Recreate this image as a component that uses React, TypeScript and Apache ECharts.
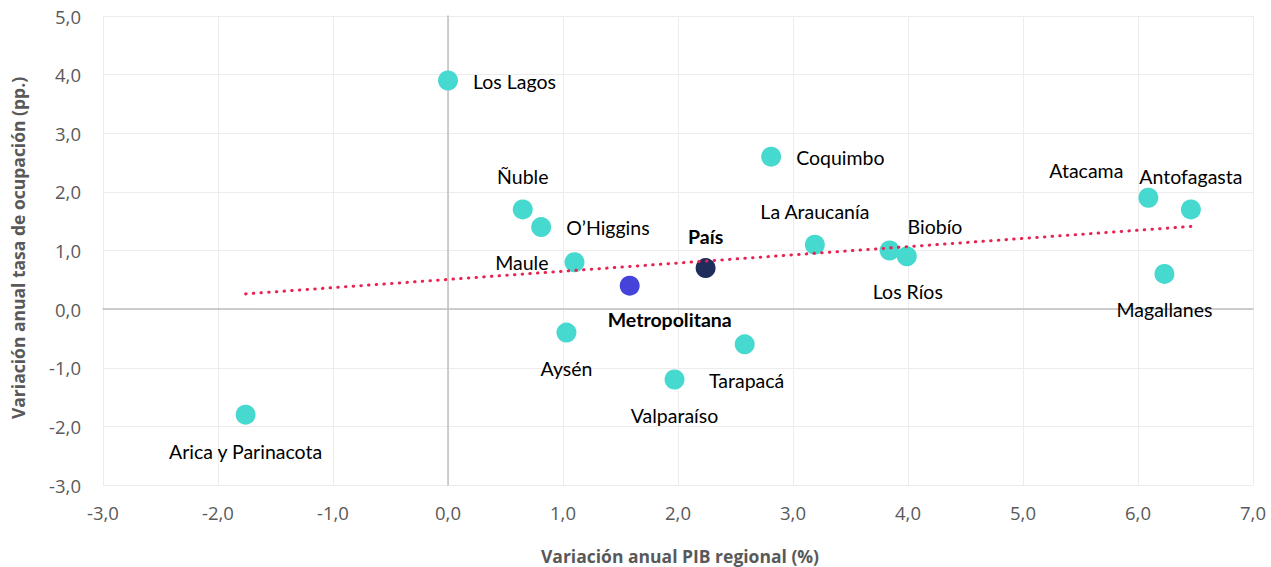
import React, { useEffect, useRef } from "react";
import * as echarts from "echarts";

const regions = [
  "Los Lagos", "Coquimbo", "Ñuble", "O’Higgins", "Maule", "La Araucanía",
  "Biobío", "Los Ríos", "Atacama", "Antofagasta", "Magallanes", "Aysén",
  "Tarapacá", "Valparaíso", "Arica y Parinacota",
];
const pibRegional = [0.0, 2.81, 0.65, 0.81, 1.1, 3.19, 3.84, 3.99, 6.09, 6.46, 6.23, 1.03, 2.58, 1.97, -1.76];
const ocupacionRegional = [3.9, 2.6, 1.7, 1.4, 0.8, 1.1, 1.0, 0.9, 1.9, 1.7, 0.6, -0.4, -0.6, -1.2, -1.8];

const metroName = "Metropolitana";
const metroPoint = [1.58, 0.4];
const paisName = "País";
const paisPoint = [2.24, 0.7];

const trendX = [-1.76, 6.46];
const trendY = [0.26, 1.41];

const xTicks = ["-3,0", "-2,0", "-1,0", "0,0", "1,0", "2,0", "3,0", "4,0", "5,0", "6,0", "7,0"];

const xAxisName = "Variación anual PIB regional (%)";
const yAxisName = "Variación anual tasa de ocupación (pp.)";

// label offsets (style), keyed by name
const labelOffsets: Record<string, [number, number, string]> = {
  "Los Lagos": [25, 1, "left"],
  "Coquimbo": [25, 1, "left"],
  "Ñuble": [0, -33, "center"],
  "O’Higgins": [25, 0, "left"],
  "Maule": [-26, 0, "right"],
  "La Araucanía": [0, -33, "center"],
  "Biobío": [18, -24, "left"],
  "Los Ríos": [1, 35, "center"],
  "Atacama": [-25, -27, "right"],
  "Antofagasta": [0, -33, "center"],
  "Magallanes": [0, 36, "center"],
  "Aysén": [0, 36, "center"],
  "Tarapacá": [2, 36, "center"],
  "Valparaíso": [0, 36, "center"],
  "Arica y Parinacota": [0, 37, "center"],
  "Metropolitana": [40, 34, "center"],
  "País": [0, -32, "center"],
};

const FONT = "Lato";
const TICKFONT = "Open Sans";

function mkLabel(name: string, bold = false) {
  const o = labelOffsets[name];
  return {
    show: true,
    position: "inside",
    offset: [o[0], o[1]],
    align: o[2],
    verticalAlign: "middle",
    formatter: name,
    color: "#000000",
    fontSize: 19.5,
    fontFamily: FONT,
    fontWeight: bold ? "bold" : "normal",
  };
}

export default function App() {
  const ref = useRef<HTMLDivElement>(null);
  useEffect(() => {
    document.body.style.margin = "0";
    const chart = echarts.init(ref.current!, null, { renderer: "svg" });
    const regionData = regions.map((n, i) => ({
      name: n,
      value: [pibRegional[i], ocupacionRegional[i]],
      label: mkLabel(n),
    }));
    chart.setOption({
      animation: false,
      backgroundColor: "#ffffff",
      grid: { left: 103, right: 18, top: 16, bottom: 82, containLabel: false, outerBoundsMode: "none" },
      graphic: [
        {
          type: "text",
          x: 680,
          y: 556,
          style: {
            text: xAxisName,
            fontFamily: TICKFONT,
            fontSize: 17.5,
            fontWeight: "bold",
            fill: "#595959",
            align: "center",
            verticalAlign: "middle",
          },
        },
        {
          type: "text",
          x: 18,
          y: 248,
          rotation: Math.PI / 2,
          style: {
            text: yAxisName,
            fontFamily: TICKFONT,
            fontSize: 17.5,
            fontWeight: "bold",
            fill: "#595959",
            align: "center",
            verticalAlign: "middle",
          },
        },
      ],
      xAxis: {
        type: "value",
        min: -3,
        max: 7,
        interval: 1,
        axisLine: { show: true, onZero: true, lineStyle: { color: "#bfbfbf", width: 1.5 } },
        axisTick: { show: false },
        axisLabel: {
          fontFamily: TICKFONT,
          fontSize: 18.5,
          color: "#595959",
          margin: 18,
          formatter: (v: number) => xTicks[Math.round(v + 3)] ?? "",
        },
        splitLine: { show: true, lineStyle: { color: "#ececec", width: 1 } },
      },
      yAxis: {
        type: "value",
        min: -3,
        max: 5,
        interval: 1,
        axisLine: { show: true, onZero: true, lineStyle: { color: "#bfbfbf", width: 1.5 } },
        axisTick: { show: false },
        axisLabel: {
          fontFamily: TICKFONT,
          fontSize: 18.5,
          color: "#595959",
          margin: 22,
          formatter: (v: number) => v.toFixed(1).replace(".", ","),
        },
        splitLine: { show: true, lineStyle: { color: "#ececec", width: 1 } },
      },
      series: [
        {
          type: "line",
          data: trendX.map((x, i) => [x, trendY[i]]),
          symbol: "none",
          lineStyle: { color: "#e8234f", width: 3, type: [0.5, 7.2], cap: "round" },
          z: 3,
          silent: true,
        },
        {
          type: "scatter",
          symbolSize: 20,
          itemStyle: { color: "#45d9cf", opacity: 1 },
          data: regionData,
          z: 2,
        },
        {
          type: "scatter",
          symbolSize: 20,
          itemStyle: { color: "#4444da", opacity: 1 },
          data: [{ name: metroName, value: metroPoint, label: mkLabel(metroName, true) }],
          z: 2,
        },
        {
          type: "scatter",
          symbolSize: 20,
          itemStyle: { color: "#1f2d5c", opacity: 1 },
          data: [{ name: paisName, value: paisPoint, label: mkLabel(paisName, true) }],
          z: 2,
        },
      ],
    });
    return () => chart.dispose();
  }, []);
  return <div ref={ref} style={{ width: 1271, height: 567 }} />;
}
